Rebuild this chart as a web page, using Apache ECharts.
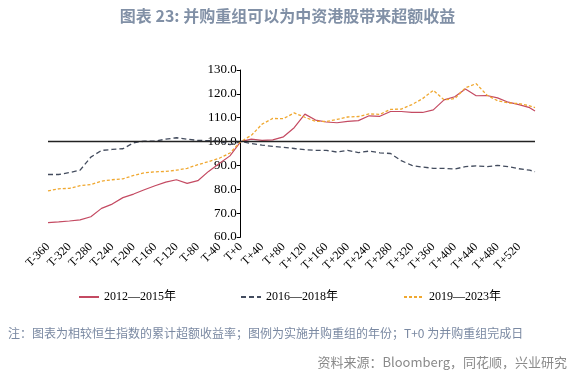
<!DOCTYPE html>
<html>
<head>
<meta charset="utf-8">
<script src="https://cdn.jsdelivr.net/npm/echarts@6/dist/echarts.min.js"></script>
<style>html,body{margin:0;padding:0;background:#fff;}#c{width:575px;height:374px;}</style>
</head>
<body>
<div id="c"></div>
<script>
// Day offsets relative to completion date (T+0)
const days = [-360,-340,-320,-300,-280,-260,-240,-220,-200,-180,-160,-140,-120,-100,-80,-60,-40,-20,0,
  20,40,60,80,100,120,140,160,180,200,220,240,260,280,300,320,340,360,380,400,420,440,460,480,500,520,540,550];

const seriesNames = ['2012—2015年', '2016—2018年', '2019—2023年'];

const s2012 = [66.0,66.3,66.7,67.2,68.5,72.0,73.8,76.5,78.0,79.8,81.5,83.0,84.0,82.5,83.6,87.5,90.8,94.0,100,
  101.0,100.5,100.7,102.0,105.8,111.5,109.0,108.2,107.9,108.5,108.8,110.8,110.6,112.6,112.6,112.2,112.2,113.3,117.5,118.8,122.0,119.2,119.3,118.3,116.5,115.5,114.2,112.8];

const s2016 = [86.2,86.2,87.0,88.0,93.5,96.3,96.7,97.0,99.5,100.2,100.2,101.0,101.6,101.0,100.5,100.4,100.2,98.7,100,
  99.2,98.5,98.0,97.6,97.1,96.6,96.3,96.3,95.6,96.3,95.4,96.0,95.3,95.0,92.0,90.0,89.3,88.8,88.8,88.5,89.5,89.8,89.5,90.0,89.5,88.6,88.0,87.4];

const s2019 = [79.3,80.2,80.4,81.5,82.0,83.4,84.0,84.4,85.8,86.9,87.3,87.5,88.0,88.8,90.3,91.6,93.0,95.2,100,
  102.6,107.3,109.7,109.6,112.0,110.2,108.5,108.4,109.3,110.3,110.5,111.6,111.4,113.5,113.6,115.5,118.0,121.5,117.5,118.0,122.5,124.3,119.5,117.1,116.2,115.9,115.0,114.2];

const yTicks = {min: 60, max: 130, step: 10};
const xTicks = {min: -360, max: 550, step: 40};
const baseline = 100;

const gridLeft = 48, gridRight = 40, W = 575;
const gridWidth = W - gridLeft - gridRight;
// y axis crosses the x axis at T+0
const yAxisOffset = -((0 - xTicks.min) / (xTicks.max - xTicks.min)) * gridWidth;

const pair = (vals) => days.map((d, i) => [d, vals[i]]);
const serif = '"Liberation Serif", "Times New Roman", "Noto Sans CJK SC", serif';
const cjk = '"Noto Sans CJK SC", "Noto Sans", sans-serif';
const legendCommon = {top: 286, itemWidth: 20, itemHeight: 10, itemStyle: {opacity: 0, borderWidth: 0},
  textStyle: {fontFamily: serif, fontSize: 12, color: '#000'}};

const chart = echarts.init(document.getElementById('c'), null, {renderer: 'canvas'});
chart.setOption({
  animation: false,
  backgroundColor: '#fff',
  title: {
    text: '图表 23: 并购重组可以为中资港股带来超额收益',
    left: 'center', top: 3,
    textStyle: {fontFamily: cjk, fontSize: 16, fontWeight: 'bold', color: '#8190a6'}
  },
  legend: [
    Object.assign({data: [seriesNames[0]], left: 73}, legendCommon),
    Object.assign({data: [seriesNames[1]], left: 235}, legendCommon),
    Object.assign({data: [seriesNames[2]], left: 398}, legendCommon)
  ],
  grid: {left: gridLeft, right: gridRight, top: 70, bottom: 137, containLabel: false, outerBoundsMode: 'none'},
  xAxis: {
    type: 'value', min: xTicks.min, max: xTicks.max, interval: xTicks.step,
    axisLine: {show: false}, axisTick: {show: false}, splitLine: {show: false},
    axisLabel: {
      rotate: 45, margin: 8, showMaxLabel: false,
      fontFamily: serif, fontSize: 12, color: '#000',
      formatter: v => (v < 0 ? 'T' + v : 'T+' + v)
    }
  },
  yAxis: {
    type: 'value', min: yTicks.min, max: yTicks.max, interval: yTicks.step,
    position: 'left', offset: yAxisOffset,
    axisLine: {show: true, onZero: false, lineStyle: {color: '#000', width: 1}},
    axisTick: {show: true, length: 4, lineStyle: {color: '#000'}},
    splitLine: {show: false},
    axisLabel: {margin: 4, fontFamily: serif, fontSize: 13, color: '#000', formatter: v => v.toFixed(1)}
  },
  series: [
    {
      name: seriesNames[0], type: 'line', data: pair(s2012), symbol: 'none',
      lineStyle: {color: '#c44a62', width: 1.2}, itemStyle: {color: '#c44a62'}, z: 3,
      markLine: {
        silent: true, symbol: 'none', label: {show: false},
        lineStyle: {color: '#222', width: 1.4, type: 'solid'},
        data: [{yAxis: baseline}]
      }
    },
    {
      name: seriesNames[1], type: 'line', data: pair(s2016), symbol: 'none',
      lineStyle: {color: '#434c5e', width: 1.3, type: [5, 3]}, itemStyle: {color: '#434c5e'}, z: 2
    },
    {
      name: seriesNames[2], type: 'line', data: pair(s2019), symbol: 'none',
      lineStyle: {color: '#f0a830', width: 1.3, type: [3, 2]}, itemStyle: {color: '#f0a830'}, z: 4
    }
  ],
  graphic: [
    {type: 'text', left: 8, top: 327,
     style: {text: '注：图表为相较恒生指数的累计超额收益率；图例为实施并购重组的年份；T+0 为并购重组完成日',
             font: '12px "Noto Sans CJK SC", sans-serif', fill: '#7a89a2'}},
    {type: 'text', right: 8, top: 356,
     style: {text: '资料来源：Bloomberg，同花顺，兴业研究',
             font: '13px "Noto Sans CJK SC", sans-serif', fill: '#8a8a8a'}}
  ]
});
</script>
</body>
</html>
